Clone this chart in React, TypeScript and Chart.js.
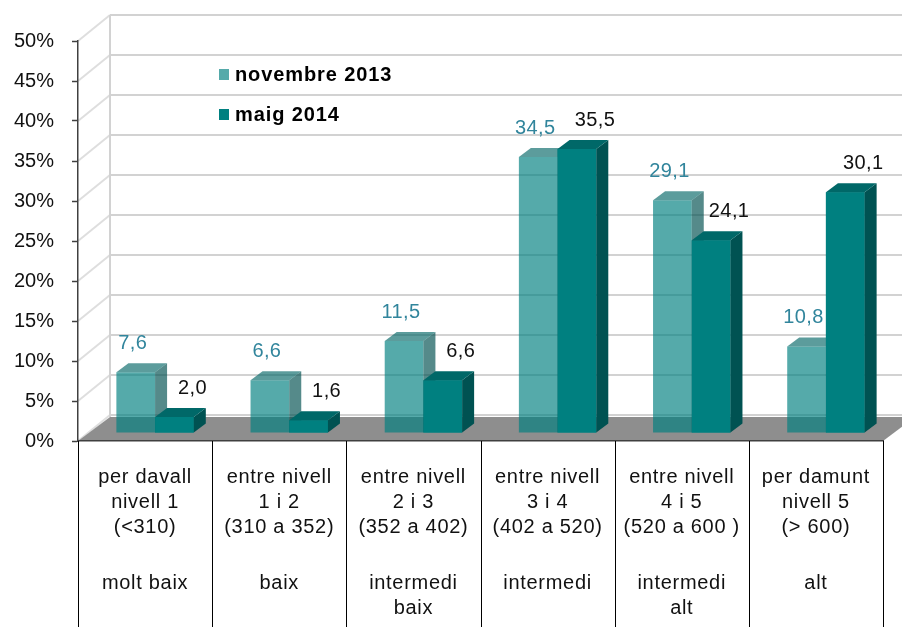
import React, { useEffect, useRef } from 'react';
import { Chart, registerables } from 'chart.js';

Chart.register(...registerables);

// ---- data ----
const categoryLabels: string[][] = [
  ['per davall', 'nivell 1', '(<310)'],
  ['entre nivell', '1 i 2', '(310 a 352)'],
  ['entre nivell', '2 i 3', '(352 a 402)'],
  ['entre nivell', '3 i 4', '(402 a 520)'],
  ['entre nivell', '4 i 5', '(520 a 600 )'],
  ['per damunt', 'nivell 5', '(> 600)'],
];
const levelLabels: string[][] = [
  ['molt baix'],
  ['baix'],
  ['intermedi', 'baix'],
  ['intermedi'],
  ['intermedi', 'alt'],
  ['alt'],
];
const seriesNames = ['novembre 2013', 'maig 2014'];
const nov2013 = [7.6, 6.6, 11.5, 34.5, 29.1, 10.8];
const maig2014 = [2.0, 1.6, 6.6, 35.5, 24.1, 30.1];
const yMin = 0;
const yMax = 50;
const yStep = 5;

// ---- style ----
const FONT = "'Liberation Sans', Arial, sans-serif";
const SHIFT = { x: 10, y: -8 };
const BAR_DEPTH = { x: 12, y: -9 };
const WALL = { x: 32, y: -26 };
const FLOOR = { x: 32, y: -24 };
const FRONT = ['rgba(0,128,128,0.667)', '#008080'];
const SIDE = ['rgba(0,80,80,0.667)', '#005252'];
const TOP = ['rgba(0,100,100,0.64)', '#006868'];
const LABEL_COLOR = ['#31859C', '#111111'];
const LABEL_DX = [-3, 18];
const LABEL_DY = -29;

const fmt = (v: number) => v.toFixed(1).replace('.', ',');

const poly = (ctx: CanvasRenderingContext2D, pts: number[][], fill: string) => {
  ctx.beginPath();
  ctx.moveTo(pts[0][0], pts[0][1]);
  for (let i = 1; i < pts.length; i++) ctx.lineTo(pts[i][0], pts[i][1]);
  ctx.closePath();
  ctx.fillStyle = fill;
  ctx.fill();
};

const drawFaces = (ctx: CanvasRenderingContext2D, meta: any, i: number) => {
  for (const el of meta.data) {
    const { x, y, base, width } = el.getProps(['x', 'y', 'base', 'width'], true);
    const l = x - width / 2;
    const r = x + width / 2;
    poly(ctx, [[r, y], [r + BAR_DEPTH.x, y + BAR_DEPTH.y], [r + BAR_DEPTH.x, base + BAR_DEPTH.y], [r, base]], SIDE[i]);
    poly(ctx, [[l, y], [l + BAR_DEPTH.x, y + BAR_DEPTH.y], [r + BAR_DEPTH.x, y + BAR_DEPTH.y], [r, y]], TOP[i]);
  }
};

const threeD = {
  id: 'threeD',
  beforeDraw(chart: any) {
    const { ctx, chartArea: a, scales } = chart;
    const y = scales.y;
    for (const id of ['x', 'x2']) {
      const s: any = scales[id];
      if (s && !s._lsPatched) {
        const orig = s.drawLabels.bind(s);
        s.drawLabels = (area: any) => {
          const c = s.ctx;
          c.save();
          c.letterSpacing = '0.7px';
          orig(area);
          c.restore();
        };
        s._lsPatched = true;
      }
    }
    ctx.save();
    ctx.lineWidth = 2;
    for (const t of y.ticks) {
      const py = y.getPixelForValue(t.value);
      ctx.strokeStyle = '#dedede';
      ctx.beginPath();
      ctx.moveTo(a.left, py);
      ctx.lineTo(a.left + WALL.x, py + WALL.y);
      ctx.stroke();
      ctx.strokeStyle = '#d2d2d2';
      ctx.beginPath();
      ctx.moveTo(a.left + WALL.x, py + WALL.y);
      ctx.lineTo(a.right + WALL.x, py + WALL.y);
      ctx.stroke();
    }
    ctx.strokeStyle = '#d2d2d2';
    ctx.beginPath();
    ctx.moveTo(a.left + WALL.x, y.getPixelForValue(yMax) + WALL.y);
    ctx.lineTo(a.left + WALL.x, a.bottom + FLOOR.y);
    ctx.stroke();
    poly(ctx, [
      [a.left, a.bottom],
      [a.right, a.bottom],
      [a.right + FLOOR.x, a.bottom + FLOOR.y],
      [a.left + FLOOR.x, a.bottom + FLOOR.y],
    ], '#8e8e8e');
    ctx.restore();
  },
  beforeDatasetsDraw(chart: any) {
    chart.ctx.save();
    chart.ctx.translate(SHIFT.x, SHIFT.y);
  },
  afterDatasetDraw(chart: any, args: any) {
    // Chart.js draws the last dataset first; once the first (front-left) series is drawn,
    // add its faces, then bring the second series forward again with its faces.
    if (args.index !== 0) return;
    const ctx = chart.ctx;
    drawFaces(ctx, chart.getDatasetMeta(0), 0);
    const n = chart.data.datasets.length;
    for (let i = 1; i < n; i++) {
      const meta = chart.getDatasetMeta(i);
      for (const el of meta.data) el.draw(ctx, chart.chartArea);
      drawFaces(ctx, meta, i);
    }
  },
  afterDatasetsDraw(chart: any) {
    const ctx = chart.ctx;
    ctx.font = `20px ${FONT}`;
    ctx.letterSpacing = '0.4px';
    ctx.textAlign = 'center';
    ctx.textBaseline = 'middle';
    chart.data.datasets.forEach((ds: any, i: number) => {
      const meta = chart.getDatasetMeta(i);
      meta.data.forEach((el: any, j: number) => {
        const { x, y } = el.getProps(['x', 'y'], true);
        ctx.fillStyle = LABEL_COLOR[i];
        ctx.fillText(fmt(ds.data[j]), x + LABEL_DX[i], y + LABEL_DY);
      });
    });
    ctx.letterSpacing = '0px';
    ctx.restore();
  },
  afterDraw(chart: any) {
    const { ctx, chartArea: a, scales } = chart;
    const xs = scales.x;
    const n = chart.data.labels.length;
    const half = (xs.getPixelForValue(1) - xs.getPixelForValue(0)) / 2;
    ctx.save();
    ctx.strokeStyle = '#000';
    ctx.lineWidth = 1;
    for (let k = 0; k <= n; k++) {
      const px = Math.round(xs.getPixelForValue(k) - half) + 0.5;
      ctx.beginPath();
      ctx.moveTo(px, a.bottom);
      ctx.lineTo(px, chart.height);
      ctx.stroke();
    }
    // legend
    ctx.font = `bold 20px ${FONT}`;
    ctx.letterSpacing = '0.9px';
    ctx.textBaseline = 'middle';
    ctx.textAlign = 'left';
    chart.data.datasets.forEach((ds: any, i: number) => {
      const cy = a.top + 34 + i * 40;
      ctx.fillStyle = ds.backgroundColor;
      ctx.fillRect(a.left + 141, cy - 6, 10, 11);
      ctx.fillStyle = '#000';
      ctx.fillText(ds.label, a.left + 157, cy);
    });
    ctx.restore();
  },
};

export default function App() {
  const ref = useRef<HTMLCanvasElement | null>(null);
  useEffect(() => {
    document.body.style.margin = '0';
    const canvas = ref.current!;
    const chart = new Chart(canvas, {
      type: 'bar',
      data: {
        labels: categoryLabels,
        datasets: [
          { label: seriesNames[0], data: nov2013, backgroundColor: FRONT[0], borderWidth: 0, clip: false } as any,
          { label: seriesNames[1], data: maig2014, backgroundColor: FRONT[1], borderWidth: 0, clip: false } as any,
        ],
      },
      options: {
        animation: false,
        responsive: false,
        devicePixelRatio: 1,
        layout: { padding: { top: 41, right: 19, left: 0, bottom: 0 } },
        datasets: { bar: { barPercentage: 1, categoryPercentage: 0.577 } },
        plugins: { legend: { display: false }, tooltip: { enabled: false } },
        scales: {
          y: {
            min: yMin,
            max: yMax,
            ticks: {
              stepSize: yStep,
              callback: (v: any) => `${v}%`,
              font: { family: FONT, size: 20 },
              color: '#111',
              padding: 18,
            },
            grid: { drawOnChartArea: false, drawTicks: true, tickLength: 6, tickColor: '#404040', tickWidth: 1.5 },
            border: { display: true, color: '#404040', width: 1.5 },
            afterFit: (s: any) => { s.width = 78; },
          },
          x: {
            offset: true,
            grid: { display: false, drawTicks: false },
            border: { display: true, color: '#404040', width: 1.5 },
            ticks: {
              autoSkip: false,
              maxRotation: 0,
              minRotation: 0,
              padding: 23.5,
              color: '#111',
              font: { family: FONT, size: 20, lineHeight: 1.25 },
            },
            afterFit: (s: any) => { s.height = 110; },
          },
          x2: {
            type: 'category',
            position: 'bottom',
            labels: levelLabels as any,
            offset: true,
            weight: 1,
            grid: { display: false, drawTicks: false },
            border: { display: false },
            ticks: {
              autoSkip: false,
              maxRotation: 0,
              minRotation: 0,
              padding: 20.5,
              color: '#111',
              font: { family: FONT, size: 20, lineHeight: 1.22 },
            },
            afterFit: (s: any) => { s.height = 76; },
          },
        },
      } as any,
      plugins: [threeD],
    });
    return () => chart.destroy();
  }, []);
  return (
    <div style={{ position: 'fixed', left: 0, top: 0, width: 902, height: 627, background: '#fff' }}>
      <canvas ref={ref} width={902} height={627} />
    </div>
  );
}
